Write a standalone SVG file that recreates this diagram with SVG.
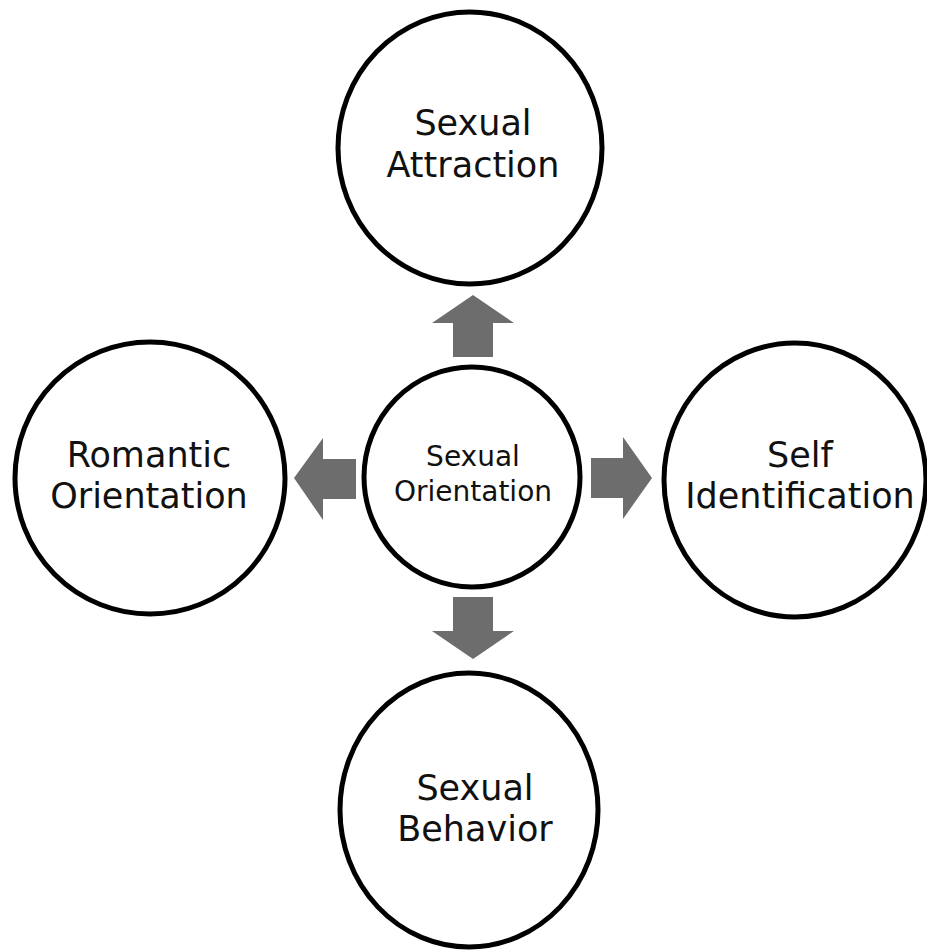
<svg xmlns="http://www.w3.org/2000/svg" width="927" height="951" viewBox="0 0 927 951">
  <style>
    .node { fill: #ffffff; stroke: #000000; stroke-width: 5; }
    .lbl { font-family: "DejaVu Sans", "Liberation Sans", sans-serif; font-size: 35px; fill: #111111; text-anchor: middle; }
    .lbl-sm { font-family: "DejaVu Sans", "Liberation Sans", sans-serif; font-size: 28px; fill: #111111; text-anchor: middle; }
    .arrow { fill: #6d6d6d; }
  </style>
  <rect width="927" height="951" fill="#ffffff"/>
  <g id="connectors">
    <polygon class="arrow" points="473,295 514,323 493,323 493,357 453,357 453,323 432,323"/>
    <polygon class="arrow" points="473,659 514,631 493,631 493,597 453,597 453,631 432,631"/>
    <polygon class="arrow" points="294,478 323,438 323,459 356,459 356,499 323,499 323,520"/>
    <polygon class="arrow" points="652,478 623,437 623,458 591,458 591,498 623,498 623,519"/>
  </g>
  <g id="node-top">
    <ellipse class="node" cx="470" cy="148" rx="132" ry="136"/>
    <text class="lbl" x="473" y="135">Sexual</text>
    <text class="lbl" x="473" y="177">Attraction</text>
  </g>
  <g id="node-left">
    <ellipse class="node" cx="150" cy="478" rx="135" ry="136"/>
    <text class="lbl" x="149" y="467">Romantic</text>
    <text class="lbl" x="149" y="508">Orientation</text>
  </g>
  <g id="node-right">
    <ellipse class="node" cx="795" cy="480" rx="131" ry="137"/>
    <text class="lbl" x="800" y="467">Self</text>
    <text class="lbl" x="800" y="508">Identification</text>
  </g>
  <g id="node-bottom">
    <ellipse class="node" cx="469" cy="810" rx="129" ry="137"/>
    <text class="lbl" x="475" y="800">Sexual</text>
    <text class="lbl" x="475" y="841">Behavior</text>
  </g>
  <g id="node-center">
    <ellipse class="node" cx="472" cy="477" rx="108" ry="110"/>
    <text class="lbl-sm" x="473" y="466">Sexual</text>
    <text class="lbl-sm" x="473" y="501">Orientation</text>
  </g>
</svg>
